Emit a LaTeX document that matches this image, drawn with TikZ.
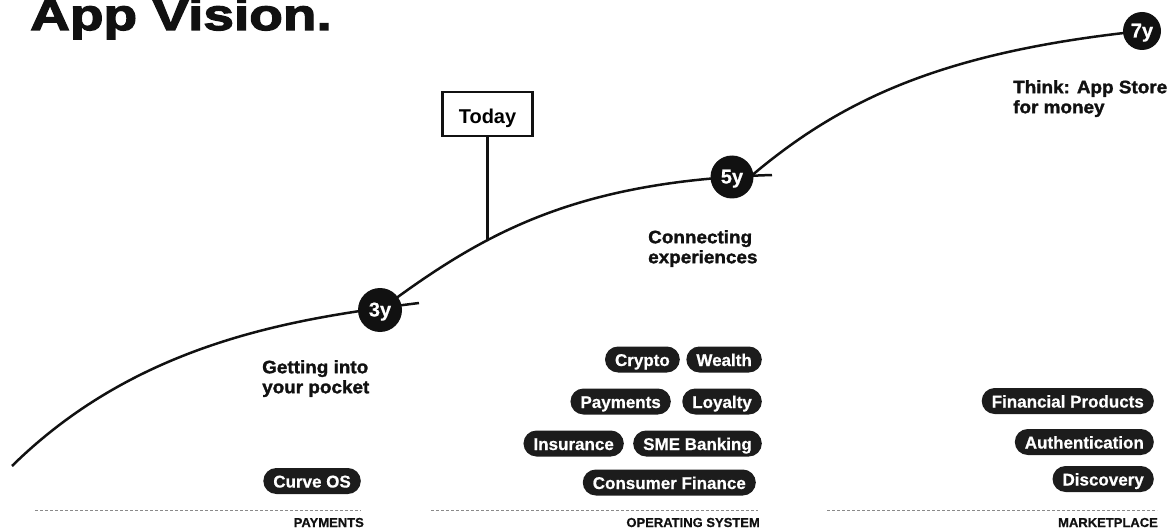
\documentclass[tikz,border=0pt]{standalone}
\usepackage{fontspec}
\setmainfont{Liberation Sans}
\newfontfamily\boldfont{Liberation Sans Bold}
\newfontfamily\chipfont[FakeBold=0.6]{Liberation Sans Bold}
\newfontfamily\heavyfont[FakeStretch=1.05,FakeBold=1.6]{Liberation Sans Bold}
\newfontfamily\titlefont[FakeStretch=1.25,FakeBold=3]{Liberation Sans Bold}
\usetikzlibrary{backgrounds}
\definecolor{ink}{HTML}{111111}
\definecolor{chipfill}{HTML}{1C1C1C}
\definecolor{rulegray}{HTML}{8A8A8A}

\begin{document}
\begin{tikzpicture}[x=1pt,y=-1pt,
  chip/.style={fill=chipfill, text=white, rounded corners=13pt,
    minimum height=26pt, inner xsep=10pt, inner ysep=0pt,
    text height=13pt, text depth=0pt, anchor=east,
    font=\chipfont\fontsize{17}{17}\selectfont},
  year/.style={circle, fill=ink, text=white, inner sep=0pt,
    text height=13pt, text depth=0pt,
    font=\chipfont\fontsize{20}{20}\selectfont},
  phase/.style={anchor=north west, inner sep=0pt, align=left, text=ink,
    font=\heavyfont\fontsize{18}{20}\selectfont},
  track/.style={draw=ink, line width=2.5pt},
  sectionrule/.style={draw=rulegray, line width=0.8pt, dash pattern=on 3pt off 2pt},
  section/.style={anchor=base east, inner sep=0pt, text=ink,
    font=\chipfont\fontsize{13}{13}\selectfont},
  marker/.style={draw=ink, line width=2.8pt, fill=white, minimum width=90pt,
    minimum height=44pt, inner sep=0pt, text height=18.6pt, text depth=0pt,
    font=\boldfont\fontsize{20}{20}\selectfont}
]
\useasboundingbox (0,0) rectangle (1176,532);

% heading
\node[anchor=base west, inner sep=0pt, text=ink,
  font=\titlefont\fontsize{44}{44}\selectfont] (title) at (30,30) {App Vision.};

% milestones on the growth curve
\node[year, minimum size=44pt] (y3) at (380,310) {3y};
\node[year, minimum size=43pt] (y5) at (732,177) {5y};
\node[year, minimum size=38pt] (y7) at (1142,31) {7y};

\coordinate (origin) at (12,466);
\coordinate (tick3) at (419,303);
\coordinate (tick5) at (772,175);
\coordinate (from5) at (750,177);
\coordinate (foot) at (487.5,240);

\begin{scope}[on background layer]
  \draw[track] (origin) .. controls (140,340) and (300,318) .. (tick3);
  \draw[track] (y3.center) .. controls (481,235) and (572,181) .. (tick5);
  \draw[track] (from5) .. controls (840,100.5) and (941,52) .. (y7.center);
\end{scope}

% current position marker
\node[marker] (today) at (487.5,114) {Today};
\draw[track] (today.south) -- (foot);

% phase descriptions
\node[phase] (pocket) at (262,360) {Getting into\\your pocket};
\node[phase] (connect) at (648,230) {Connecting\\experiences};
\node[phase] (store) at (1013,80) {Think: App Store\\for money};

% payments column
\node[chip] (curveos) at (361,481) {Curve OS};

% operating system column
\node[chip] (crypto) at (680,359.5) {Crypto};
\node[chip] (wealth) at (762,359.5) {Wealth};
\node[chip] (payments) at (671,401.5) {Payments};
\node[chip] (loyalty) at (762,401.5) {Loyalty};
\node[chip] (insurance) at (624,443.5) {Insurance};
\node[chip] (sme) at (762,443.5) {SME Banking};
\node[chip] (consumer) at (756,482.5) {Consumer Finance};

% marketplace column
\node[chip] (finprod) at (1154,401) {Financial Products};
\node[chip] (auth) at (1154,442) {Authentication};
\node[chip] (discovery) at (1154,479) {Discovery};

% section footers
\draw[sectionrule] (35,510) -- (361,510);
\draw[sectionrule] (431,510) -- (758,510);
\draw[sectionrule] (827,510) -- (1157,510);
\node[section] (secpay) at (364,527) {PAYMENTS};
\node[section] (secos) at (760,527) {OPERATING SYSTEM};
\node[section] (secmkt) at (1158,527) {MARKETPLACE};
\end{tikzpicture}
\end{document}
